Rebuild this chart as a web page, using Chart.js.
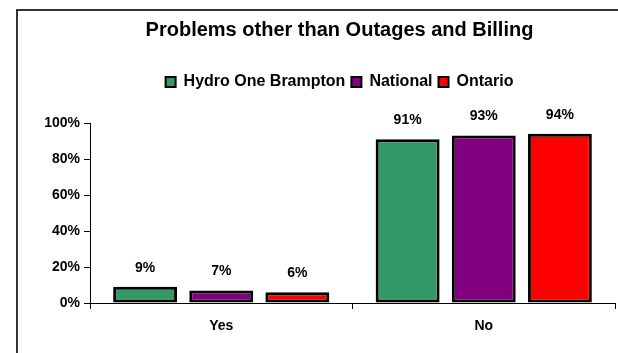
<!DOCTYPE html>
<html>
<head>
<meta charset="utf-8">
<script src="https://cdn.jsdelivr.net/npm/chart.js@4"></script>
<style>
  html, body { margin: 0; padding: 0; background: #fff; }
</style>
</head>
<body>
<canvas id="chart" width="618" height="353"></canvas>
<script>
// chart data
var categories = ['Yes', 'No'];
var seriesNames = ['Hydro One Brampton', 'National', 'Ontario'];
var hydroOne = [9, 91];
var national = [7, 93];
var ontario = [6, 94];
var yTicks = [0, 20, 40, 60, 80, 100];
var seriesColors = ['#339966', '#800080', '#ff0000'];

var FONT = "'Liberation Sans', Arial, sans-serif";

// outer frame, like the pasted Excel chart border
var framePlugin = {
	id: 'frame',
	beforeDraw: function(chart) {
		var ctx = chart.ctx;
		ctx.save();
		ctx.fillStyle = '#fff';
		ctx.fillRect(0, 0, chart.width, chart.height);
		ctx.strokeStyle = '#333';
		ctx.lineWidth = 2;
		ctx.beginPath();
		ctx.moveTo(17, chart.height);
		ctx.lineTo(17, 10);
		ctx.lineTo(chart.width, 10);
		ctx.stroke();
		ctx.restore();
	}
};

// value labels above bars
var valueLabels = {
	id: 'valueLabels',
	afterDatasetsDraw: function(chart) {
		var ctx = chart.ctx;
		ctx.save();
		ctx.font = 'bold 14px ' + FONT;
		ctx.fillStyle = '#000';
		ctx.textAlign = 'center';
		ctx.textBaseline = 'middle';
		chart.data.datasets.forEach(function(ds, i) {
			chart.getDatasetMeta(i).data.forEach(function(bar, j) {
				ctx.fillText(ds.data[j] + '%', bar.x, bar.y - 19);
			});
		});
		ctx.restore();
	}
};

// leave room between legend and plot
var legendGap = {
	id: 'legendGap',
	beforeInit: function(chart) {
		var fit = chart.legend.fit;
		chart.legend.fit = function() {
			fit.call(this);
			this.height = 55;
		};
	}
};

var seriesData = [hydroOne, national, ontario];

new Chart(document.getElementById('chart'), {
	type: 'bar',
	data: {
		labels: categories,
		datasets: seriesNames.map(function(name, i) {
			return {
				label: name,
				data: seriesData[i],
				backgroundColor: seriesColors[i],
				borderColor: '#000',
				borderWidth: 3,
				borderSkipped: false,
				barPercentage: 0.84,
				categoryPercentage: 0.87
			};
		})
	},
	options: {
		responsive: false,
		animation: false,
		layout: {
			padding: { left: 64, right: 3, top: 0, bottom: 0 }
		},
		plugins: {
			title: {
				display: true,
				text: 'Problems other than Outages and Billing',
				color: '#000',
				font: { family: FONT, size: 20, weight: 'bold' },
				padding: { top: 18, bottom: 26 }
			},
			legend: {
				labels: {
					color: '#000',
					font: { family: FONT, size: 16, weight: 'bold' },
					boxWidth: 10,
					boxHeight: 10,
					padding: 6,
					generateLabels: function(chart) {
						return chart.data.datasets.map(function(ds, i) {
							return {
								text: ds.label,
								fillStyle: ds.backgroundColor,
								strokeStyle: '#000',
								lineWidth: 2,
								datasetIndex: i
							};
						});
					}
				}
			},
			tooltip: { enabled: false }
		},
		scales: {
			x: {
				grid: { drawOnChartArea: false, tickLength: 6, color: '#000', offset: true },
				border: { color: '#000', width: 1 },
				ticks: {
					color: '#000',
					padding: 9,
					font: { family: FONT, size: 14, weight: 'bold' }
				},
				afterFit: function(scale) {
					scale.height = 50;
				}
			},
			y: {
				min: yTicks[0],
				max: yTicks[yTicks.length - 1],
				grid: { drawOnChartArea: false, tickLength: 6, color: '#000' },
				border: { color: '#000', width: 1 },
				ticks: {
					stepSize: yTicks[1] - yTicks[0],
					color: '#000',
					padding: 4,
					font: { family: FONT, size: 14, weight: 'bold' },
					callback: function(v) { return v + '%'; }
				},
				afterFit: function(scale) {
					// narrow axis box so the title centres like the original;
					// labels spill left into the padding, so no label clipping
					scale.width = 26;
					scale._computeLabelArea = function() { return undefined; };
				}
			}
		}
	},
	plugins: [framePlugin, valueLabels, legendGap]
});
</script>
</body>
</html>
